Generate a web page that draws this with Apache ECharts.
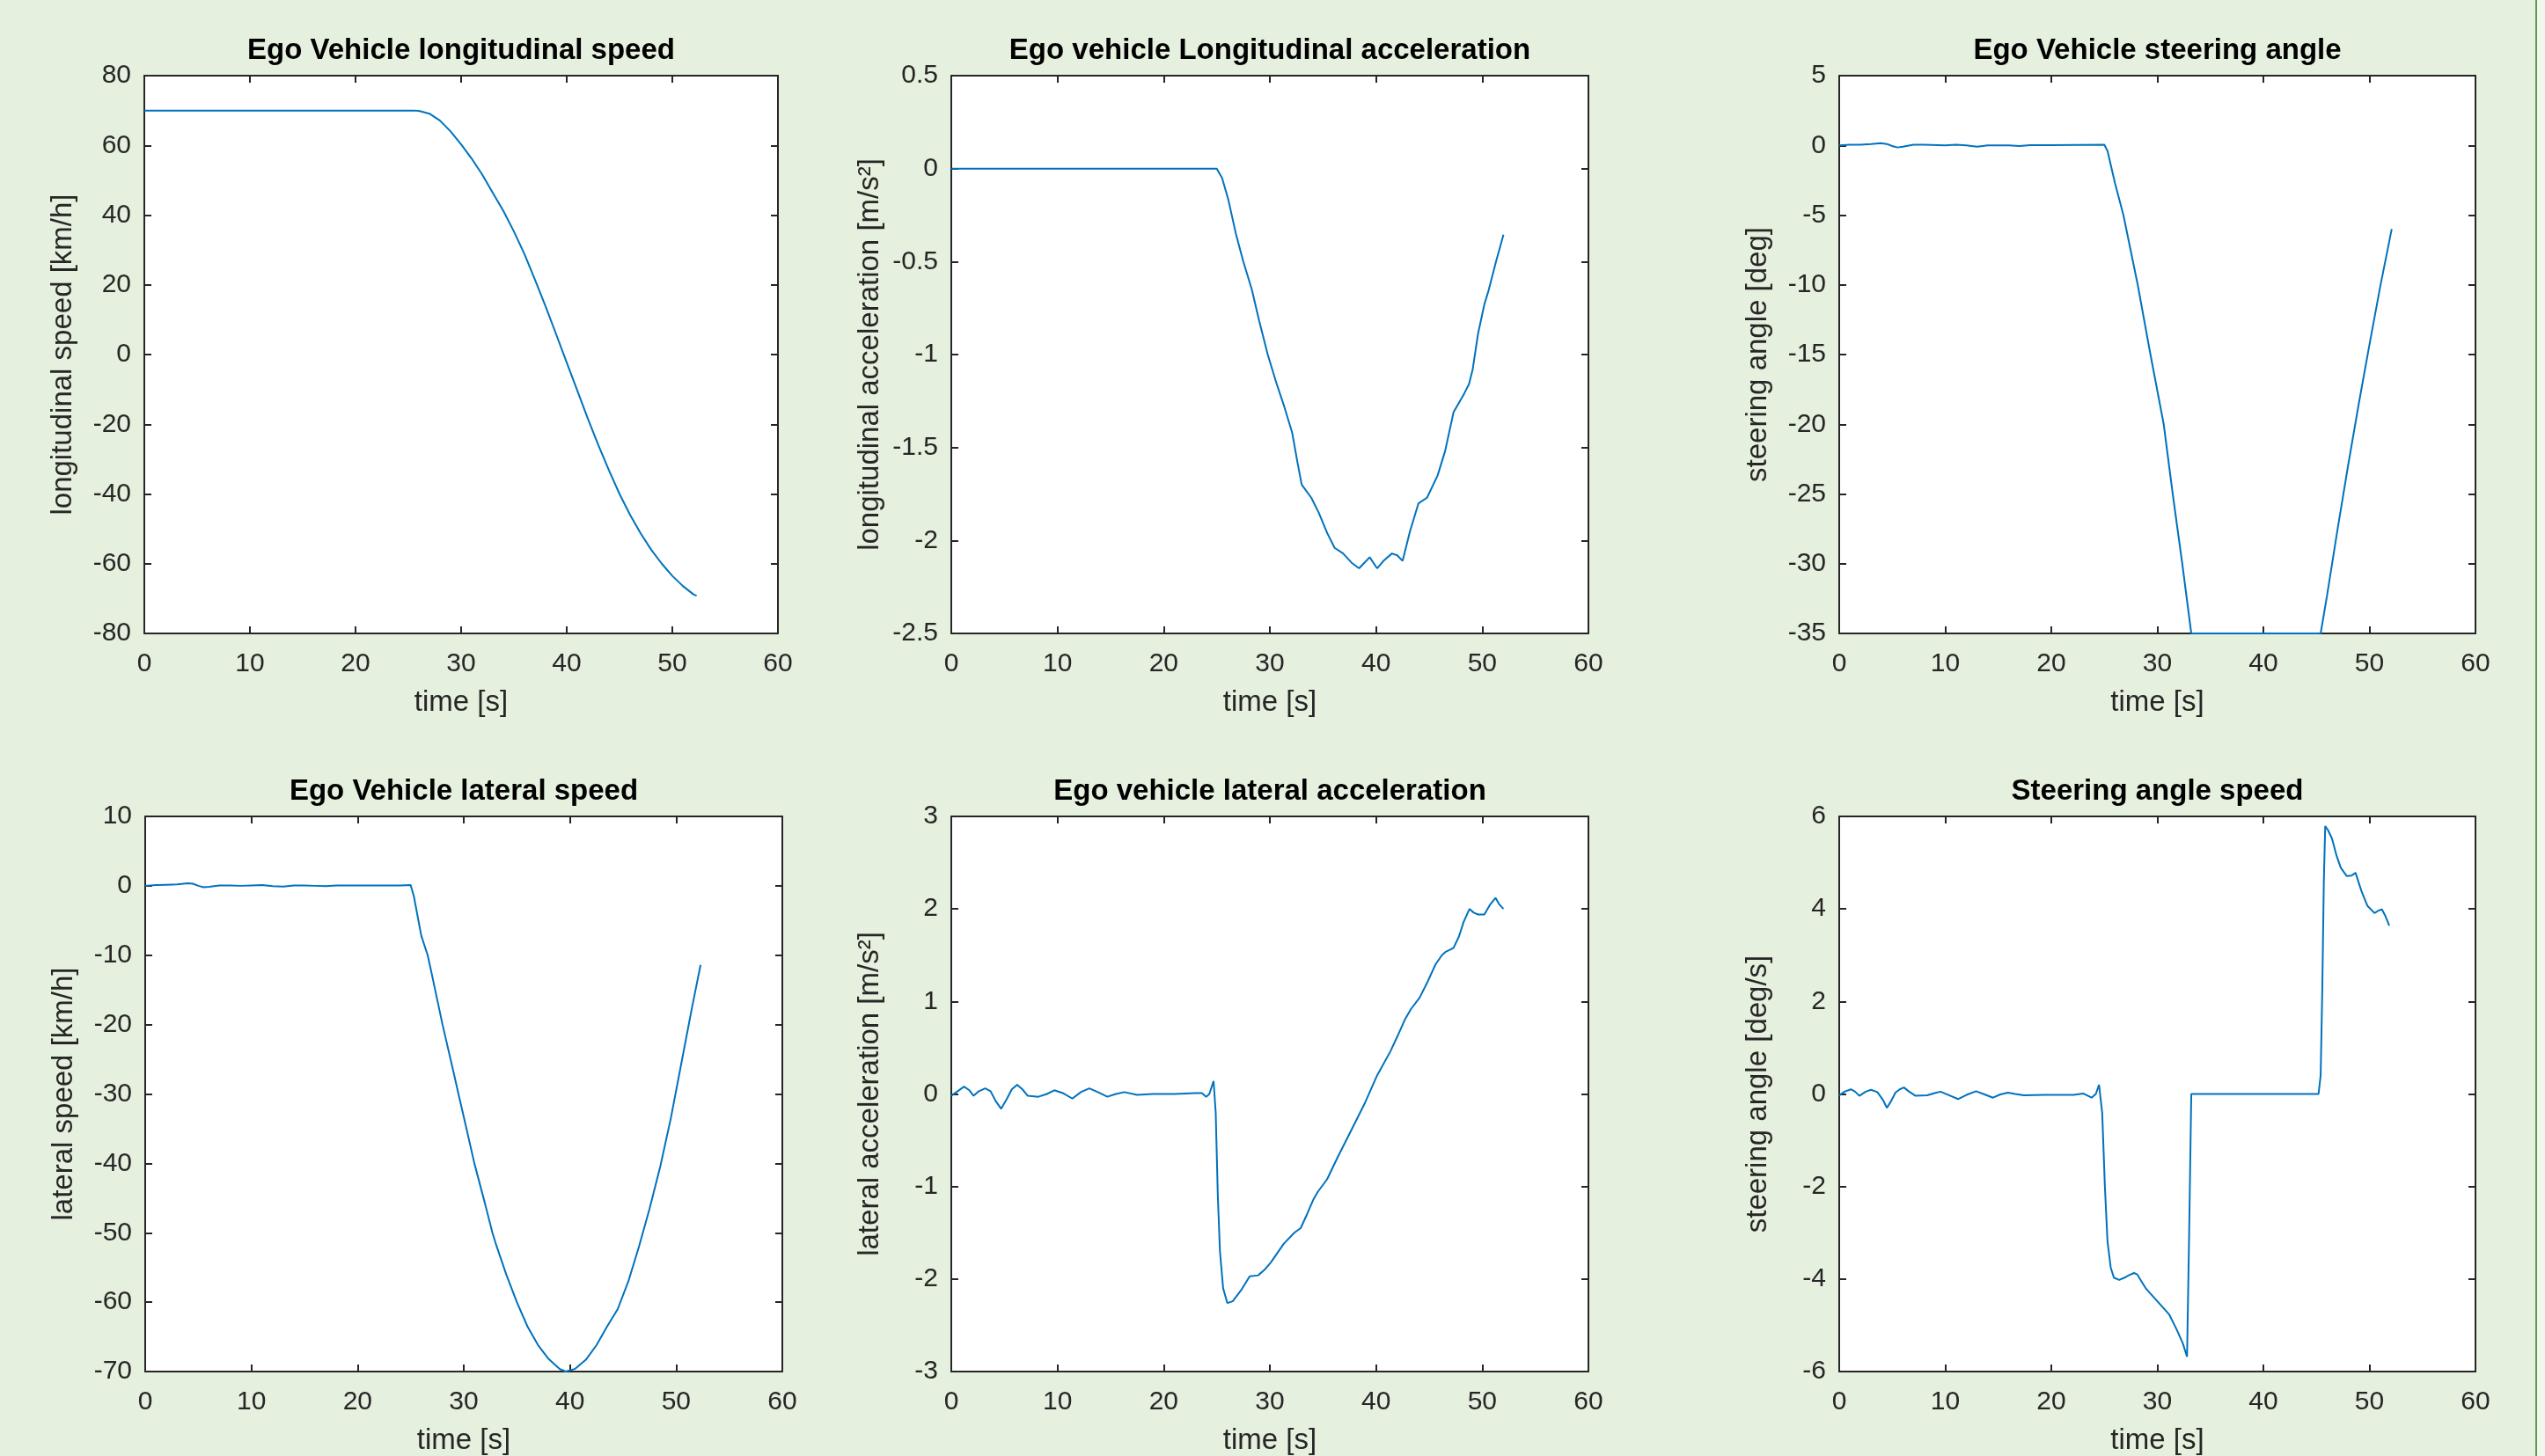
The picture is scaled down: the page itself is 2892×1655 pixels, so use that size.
<!DOCTYPE html>
<html><head><meta charset="utf-8">
<script src="https://cdn.jsdelivr.net/npm/echarts@6/dist/echarts.min.js"></script>
<style>html,body{margin:0;padding:0;background:#E6F0DE;} #c{width:2892px;height:1655px;}</style>
</head><body><div id="c"></div>
<script>
// ---- data (time [s], value) ----
const longSpeed = [[0,70],[25.5,70],[26,69.9],[27,69.1],[28,67.1],[29,64.0],[30,60.3],[31,56.2],[32,51.6],[33,46.4],[34,41.2],[35,35.3],[36,28.8],[37,21.4],[38,13.8],[39,5.8],[40,-2.3],[41,-10.3],[42,-18.4],[43,-26],[44,-33.2],[45,-40],[46,-46],[47,-51.3],[48,-56],[49,-60],[50,-63.5],[51,-66.4],[52,-68.8],[52.3,-69.2]];
const longAccel = [[0,0],[25,0],[25.5,-0.05],[26.1,-0.17],[26.8,-0.35],[27.5,-0.5],[28.3,-0.65],[29,-0.82],[29.8,-1.0],[30.6,-1.15],[31.3,-1.27],[32.1,-1.42],[32.6,-1.58],[33,-1.70],[33.9,-1.77],[34.6,-1.85],[35.4,-1.96],[36.1,-2.04],[36.9,-2.07],[37.7,-2.12],[38.4,-2.15],[38.9,-2.12],[39.4,-2.09],[40.1,-2.15],[40.7,-2.11],[41.5,-2.07],[42,-2.08],[42.5,-2.11],[43.2,-1.95],[44,-1.80],[44.8,-1.77],[45.8,-1.65],[46.5,-1.52],[47.3,-1.31],[47.8,-1.26],[48.3,-1.21],[48.75,-1.16],[49.1,-1.08],[49.6,-0.89],[50.2,-0.73],[50.6,-0.655],[51.3,-0.5],[52,-0.355]];
const steerAngle = [[0,0],[1,0.05],[2,0.05],[3,0.1],[3.9,0.16],[4.5,0.1],[5,-0.05],[5.5,-0.15],[6,-0.1],[7,0.05],[8,0.05],[10,0],[11,0.05],[12,0],[13,-0.1],[14,0],[16,0],[17,-0.05],[18,0.02],[20,0.02],[25,0.05],[25.3,-0.4],[26,-2.7],[26.8,-5],[28.15,-10],[29.35,-15],[30.6,-20],[31.45,-25],[32.35,-30],[33.2,-35],[45.4,-35],[46,-32.3],[47,-27.5],[48,-22.9],[49,-18.5],[50,-14.3],[51,-10.2],[52.1,-6]];
const latSpeed = [[0,0],[1,0.1],[2,0.15],[3,0.2],[4,0.35],[4.5,0.3],[5,0],[5.5,-0.2],[6,-0.15],[7,0.05],[8,0.05],[9,0],[10,0.05],[11,0.1],[12,-0.05],[13,-0.1],[14,0.05],[15,0.05],[16,0],[17,-0.05],[18,0.05],[20,0.05],[22,0.05],[24,0.05],[25,0.1],[25.3,-1.5],[26,-7.2],[26.6,-10],[27,-12.8],[28,-20],[29,-26.6],[29.5,-30],[30,-33.3],[31,-40],[32,-45.8],[32.7,-50],[33,-51.5],[34,-56],[35,-60],[36,-63.5],[37,-66.2],[38,-68.2],[39,-69.6],[39.6,-70],[40.5,-69.6],[41.5,-68.3],[42.5,-66.2],[43.5,-63.5],[44.5,-61],[45.5,-57],[46.5,-52],[47.5,-46.5],[48.5,-40.5],[49.5,-33.5],[50.5,-25.5],[51.5,-17.5],[52.3,-11.4]];
const latAccel = [[0,-0.02],[0.6,0.03],[1.2,0.08],[1.7,0.04],[2.1,-0.02],[2.6,0.03],[3.2,0.06],[3.7,0.03],[4.2,-0.08],[4.7,-0.16],[5.2,-0.06],[5.7,0.05],[6.2,0.1],[6.7,0.05],[7.2,-0.02],[8.2,-0.03],[9,0],[9.7,0.04],[10.5,0.01],[11.4,-0.05],[12.2,0.02],[13,0.06],[13.8,0.02],[14.7,-0.03],[15.5,0],[16.3,0.02],[17.5,-0.01],[19,0],[21,0],[23,0.01],[23.6,0.01],[24,-0.03],[24.3,0],[24.7,0.14],[24.9,-0.2],[25.1,-1.1],[25.3,-1.7],[25.6,-2.1],[26,-2.26],[26.5,-2.24],[27.3,-2.12],[28.1,-1.97],[28.9,-1.96],[29.5,-1.9],[30.1,-1.82],[31.3,-1.62],[32.3,-1.5],[32.9,-1.45],[33.5,-1.3],[34.1,-1.14],[34.5,-1.06],[35.4,-0.92],[36.4,-0.68],[37.5,-0.43],[38.9,-0.11],[40.1,0.2],[41.35,0.46],[42,0.62],[42.7,0.8],[43.3,0.92],[44.1,1.04],[44.8,1.2],[45.6,1.4],[46.2,1.5],[46.6,1.54],[47,1.56],[47.3,1.58],[47.8,1.7],[48.25,1.86],[48.8,2.0],[49.2,1.96],[49.6,1.94],[50.2,1.94],[50.7,2.04],[51.25,2.12],[51.6,2.05],[52,2.0]];
const steerRate = [[0,-0.03],[0.5,0.05],[1.1,0.1],[1.5,0.05],[1.9,-0.04],[2.5,0.05],[3.0,0.09],[3.6,0.04],[4.1,-0.12],[4.5,-0.3],[4.9,-0.15],[5.3,0.03],[5.7,0.1],[6.1,0.14],[6.6,0.05],[7.2,-0.04],[8.3,-0.03],[9,0.02],[9.55,0.05],[10.3,-0.02],[11.2,-0.11],[12,-0.02],[12.9,0.06],[13.7,-0.01],[14.5,-0.08],[15.2,-0.01],[15.9,0.03],[16.6,0],[17.4,-0.03],[19.4,-0.02],[22.1,-0.02],[23,0.01],[23.8,-0.08],[24.2,0],[24.5,0.2],[24.8,-0.41],[25.05,-1.99],[25.3,-3.19],[25.6,-3.75],[25.9,-3.97],[26.4,-4.02],[26.9,-3.97],[27.3,-3.92],[27.8,-3.87],[28.1,-3.9],[28.5,-4.05],[28.9,-4.2],[30,-4.48],[31.1,-4.76],[31.8,-5.08],[32.4,-5.39],[32.8,-5.68],[33.0,-3],[33.2,0],[45.2,0],[45.4,0.4],[45.55,2.2],[45.7,4.6],[45.83,5.79],[46.1,5.7],[46.47,5.52],[46.9,5.15],[47.3,4.89],[47.86,4.71],[48.3,4.72],[48.69,4.78],[49.24,4.39],[49.8,4.07],[50.48,3.91],[50.9,3.97],[51.18,3.99],[51.5,3.85],[51.87,3.64]];

const titles = ['Ego Vehicle longitudinal speed','Ego vehicle Longitudinal acceleration','Ego Vehicle steering angle','Ego Vehicle lateral speed','Ego vehicle lateral acceleration','Steering angle speed'];
const yNames = ['longitudinal speed [km/h]','longitudinal acceleration [m/s²]','steering angle [deg]','lateral speed [km/h]','lateral acceleration [m/s²]','steering angle [deg/s]'];
const yRanges = [[-80,80,20],[-2.5,0.5,0.5],[-35,5,5],[-70,10,10],[-3,3,1],[-6,6,2]];
const xRange = [0,60,10];
const xName = 'time [s]';
const seriesData = [longSpeed,longAccel,steerAngle,latSpeed,latAccel,steerRate];

// ---- layout ----
const boxes = [
  [164,86,720,634],[1081,86,724,634],[2090,86,723,634],
  [165,928,724,634],[1081,928,724,634],[2090,928,723,634]
];
const FONT = '"Liberation Sans", Arial, Helvetica, sans-serif';
const AX = '#262626';

const grid=[], xAxis=[], yAxis=[], series=[], graphic=[];
boxes.forEach((b,i)=>{
  grid.push({left:b[0],top:b[1],width:b[2],height:b[3],show:true,backgroundColor:'#ffffff',borderWidth:0,containLabel:false});
  const line = {onZero:false,lineStyle:{color:AX,width:2}};
  const tick = {inside:true,length:8,lineStyle:{color:AX,width:2}};
  xAxis.push({gridIndex:i,type:'value',min:xRange[0],max:xRange[1],interval:xRange[2],position:'bottom',
    name:xName,nameLocation:'middle',nameGap:62,nameTextStyle:{fontSize:33,color:AX,fontFamily:FONT},
    axisLine:line,axisTick:tick,axisLabel:{margin:20,fontSize:30,color:AX,fontFamily:FONT},splitLine:{show:false}});
  xAxis.push({gridIndex:i,type:'value',min:xRange[0],max:xRange[1],interval:xRange[2],position:'top',
    axisLine:line,axisTick:tick,axisLabel:{show:false},splitLine:{show:false}});
  const r = yRanges[i];
  yAxis.push({gridIndex:i,type:'value',min:r[0],max:r[1],interval:r[2],position:'left',
    name:yNames[i],nameLocation:'middle',nameGap:76,nameRotate:90,nameTextStyle:{fontSize:33,color:AX,fontFamily:FONT},
    axisLine:line,axisTick:tick,axisLabel:{margin:15,fontSize:30,color:AX,fontFamily:FONT},splitLine:{show:false}});
  yAxis.push({gridIndex:i,type:'value',min:r[0],max:r[1],interval:r[2],position:'right',
    axisLine:line,axisTick:tick,axisLabel:{show:false},splitLine:{show:false}});
  series.push({type:'line',xAxisIndex:2*i,yAxisIndex:2*i,data:seriesData[i],showSymbol:false,clip:false,
    lineStyle:{color:'#0072BD',width:2},itemStyle:{color:'#0072BD'},animation:false});
  graphic.push({type:'text',x:b[0]+b[2]/2,y:b[1]-28,style:{text:titles[i],fontSize:33,fontWeight:'bold',fontFamily:FONT,fill:'#000',align:'center',verticalAlign:'middle'}});
});
graphic.push({type:'rect',shape:{x:2881,y:0,width:2,height:1655},style:{fill:'#5F9A4B'}});
graphic.push({type:'rect',shape:{x:2883,y:0,width:9,height:1655},style:{fill:'#F1F6EE'}});

const chart = echarts.init(document.getElementById('c'),null,{renderer:'canvas'});
chart.setOption({backgroundColor:'#E6F0DE',animation:false,grid,xAxis,yAxis,series,graphic});
</script></body></html>
